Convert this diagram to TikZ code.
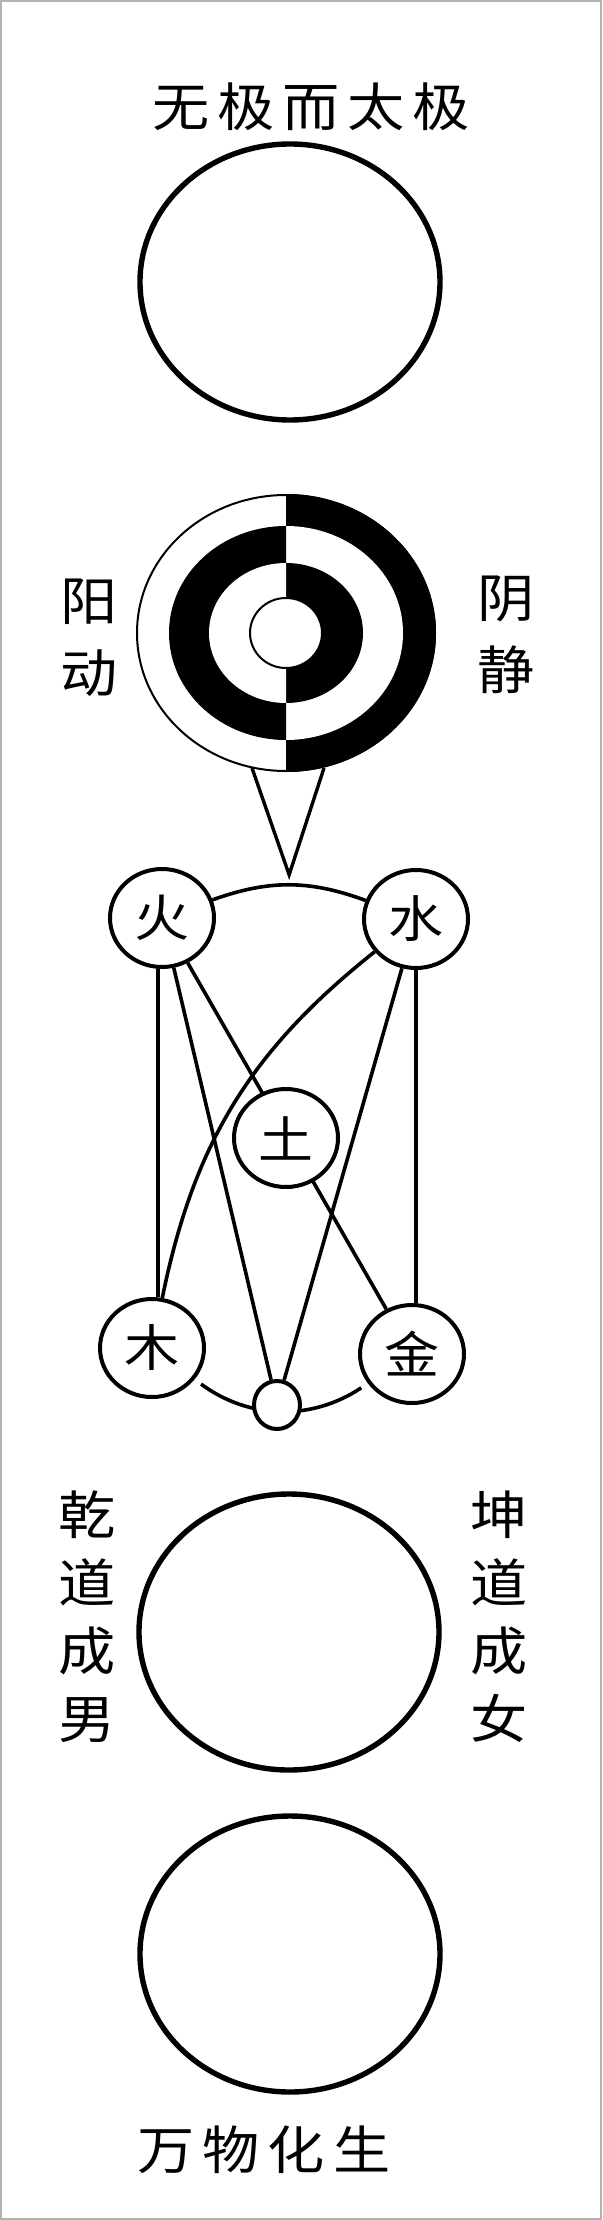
\documentclass[tikz,border=0pt]{standalone}
\usepackage{fontspec}
\newfontfamily\cjk[FakeStretch=1.1]{Noto Sans CJK SC}
\usetikzlibrary{shapes.geometric, backgrounds}
\newcommand\cg{\hspace{4pt}}

\begin{document}
\begin{tikzpicture}[x=0.5pt,y=-0.5pt,
  bigc/.style={draw,shape=ellipse,line width=2.7pt,minimum width=150pt,minimum height=138pt,inner sep=0pt},
  elem/.style={draw,shape=ellipse,fill=white,line width=2pt,minimum width=52pt,minimum height=49pt,inner sep=0pt,font=\cjk\fontsize{25pt}{25pt}\selectfont},
  lbl/.style={inner sep=0pt,align=center,font=\cjk\fontsize{26pt}{34pt}\selectfont},
  link/.style={line width=1.8pt}]
  \useasboundingbox (0,0) rectangle (602,2220);
  \draw[gray!60,line width=1pt] (1,1) rectangle (601,2219);
  % wuji, qian/kun, wanwu
  \node[bigc] (wuji) at (290,282) {};
  \node[bigc] (qian) at (289,1632) {};
  \node[bigc] (wanwu) at (290,1954) {};
  \node[lbl] (title) at (311,107) {无\cg{}极\cg{}而\cg{}太\cg{}极};
  \node[lbl] (yang) at (89,638) {阳\\[2pt]动};
  \node[lbl] (yin) at (506,635) {阴\\[2pt]静};
  \node[lbl] (qd) at (87,1617) {乾\\道\\成\\男};
  \node[lbl] (kd) at (499,1617) {坤\\道\\成\\女};
  \node[lbl] (wwhs) at (264,2150) {万\cg{}物\cg{}化\cg{}生};
  % yin yang rings
  \coordinate (yy) at (286,633);
  \begin{scope}
    \clip (286,480) rectangle (450,790);
    \fill (yy) ellipse [x radius=150, y radius=139];
    \fill[white] (yy) ellipse [x radius=117, y radius=107];
    \fill (yy) ellipse [x radius=77, y radius=70];
  \end{scope}
  \begin{scope}
    \clip (120,480) rectangle (286,790);
    \fill (yy) ellipse [x radius=117, y radius=107];
    \fill[white] (yy) ellipse [x radius=77, y radius=70];
  \end{scope}
  \draw[line width=1pt] (yy) ellipse [x radius=149, y radius=138];
  \draw[line width=1pt,fill=white] (yy) ellipse [x radius=36, y radius=35];
  % five elements
  \node[elem] (huo) at (162,918) {火};
  \node[elem] (shui) at (416,919) {水};
  \node[elem] (tu) at (286,1138) {土};
  \node[elem] (mu) at (152,1348) {木};
  \node[elem] (jin) at (412,1354) {金};
  \node[elem,minimum width=23pt,minimum height=24pt] (xiao) at (277,1405) {};
  \coordinate (hs) at ([xshift=-2pt]huo.south);
  \begin{scope}[on background layer]
    \draw[link] (huo) to[bend left=20] coordinate[pos=.5] (arctop) (shui);
    \draw[link] (hs) -- (hs |- mu.north);
    \draw[link] (shui.south) -- (shui.south |- jin.north);
    \draw[link] (huo) -- (jin);
    \draw[link] (huo) -- (xiao);
    \draw[link] (shui) -- (xiao);
    \draw[link] (shui) to[bend right=20] (mu);
    \draw[link,shorten <=4pt,shorten >=4pt] (mu) to[bend right=35] (jin);
  \end{scope}
  \coordinate (tl) at (252,768);
  \coordinate (tr) at (324,768);
  \draw[line width=1.7pt] (tl) -- ([yshift=5pt]arctop) -- (tr);
\end{tikzpicture}
\end{document}
